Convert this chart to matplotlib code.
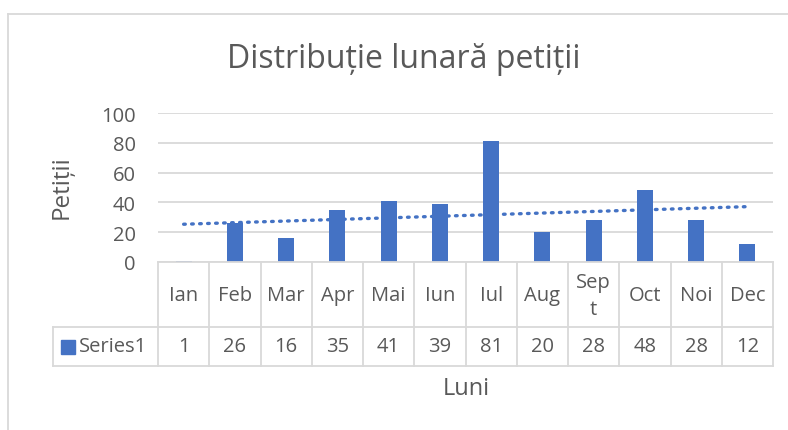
import numpy as np
import matplotlib.pyplot as plt
from matplotlib.lines import Line2D
from matplotlib.patches import Rectangle

months = ['Ian', 'Feb', 'Mar', 'Apr', 'Mai', 'Iun', 'Iul', 'Aug', 'Sep\nt', 'Oct', 'Noi', 'Dec']
petitii = [1, 26, 16, 35, 41, 39, 81, 20, 28, 48, 28, 12]
series_name = 'Series1'
yticks = [0, 20, 40, 60, 80, 100]

W, H = 788, 431
blue = '#4472C4'
grid = '#d9d9d9'
txt = '#595959'

plt.rcParams['font.family'] = ['Open Sans', 'DejaVu Sans']

fig = plt.figure(figsize=(W / 100, H / 100), dpi=100)

def fx(px):
    return px / W

def fy(py):
    return 1 - py / H

# plot area in pixels
left, right, top, bottom = 158, 773, 114, 263
ax = fig.add_axes([fx(left), fy(bottom), fx(right - left), (bottom - top) / H])

x = np.arange(len(petitii))
ax.bar(x, petitii, width=0.31, color=blue, zorder=3)

# linear trendline (Excel style)
k, b = np.polyfit(x, petitii, 1)
ax.plot(x, k * x + b, color=blue, lw=2.4, ls=(0, (0.5, 1.9)), dash_capstyle='round', zorder=4)

ax.set_xlim(-0.5, len(petitii) - 0.5)
ax.set_ylim(0, 100)
ax.set_yticks(yticks)
ax.set_xticks([])
ax.yaxis.grid(True, color=grid, lw=1.3)
ax.set_axisbelow(True)
for s in ax.spines.values():
    s.set_visible(False)
ax.tick_params(axis='y', length=0, pad=16, labelsize=14.5, labelcolor=txt)

# data table
row1, row2 = 328, 367
tl = fig.transFigure
for i in range(len(petitii) + 1):
    xp = left + i * (right - left) / len(petitii)
    fig.add_artist(Line2D([fx(xp), fx(xp)], [fy(bottom), fy(row2)], color=grid, lw=1.3, transform=tl))
fig.add_artist(Line2D([fx(left), fx(right)], [fy(bottom), fy(bottom)], color=grid, lw=1.3, transform=tl))
for yp in (row1, row2):
    fig.add_artist(Line2D([fx(53), fx(right)], [fy(yp), fy(yp)], color=grid, lw=1.3, transform=tl))
fig.add_artist(Line2D([fx(53), fx(53)], [fy(row1), fy(row2)], color=grid, lw=1.3, transform=tl))

cw = (right - left) / len(petitii)
for i, (m, v) in enumerate(zip(months, petitii)):
    cx = left + (i + 0.5) * cw
    fig.text(fx(cx), fy((bottom + row1) / 2 + 1), m, ha='center', va='center',
             fontsize=14.5, color=txt, linespacing=1.45)
    fig.text(fx(cx), fy((row1 + row2) / 2), str(v), ha='center', va='center',
             fontsize=14.5, color=txt)

fig.add_artist(Rectangle((fx(61), fy(355)), fx(14), 14 / H, color=blue, transform=tl))
fig.text(fx(79), fy((row1 + row2) / 2), series_name, ha='left', va='center', fontsize=14.5, color=txt)

# titles
fig.text(fx(404), fy(60), 'Distribuție lunară petiții', ha='center', va='center', fontsize=23, color=txt)
fig.text(fx(62), fy(187), 'Petiții', ha='center', va='center', rotation=90, fontsize=17.5, color=txt)
fig.text(fx(466), fy(389), 'Luni', ha='center', va='center', fontsize=17, color=txt)

# chart border (partially visible)
fig.add_artist(Line2D([fx(8), fx(W)], [fy(15), fy(15)], color=grid, lw=1.3, transform=tl))
fig.add_artist(Line2D([fx(8), fx(8)], [fy(15), 0], color=grid, lw=1.3, transform=tl))

fig.savefig('out.png', dpi=100, facecolor='white')
